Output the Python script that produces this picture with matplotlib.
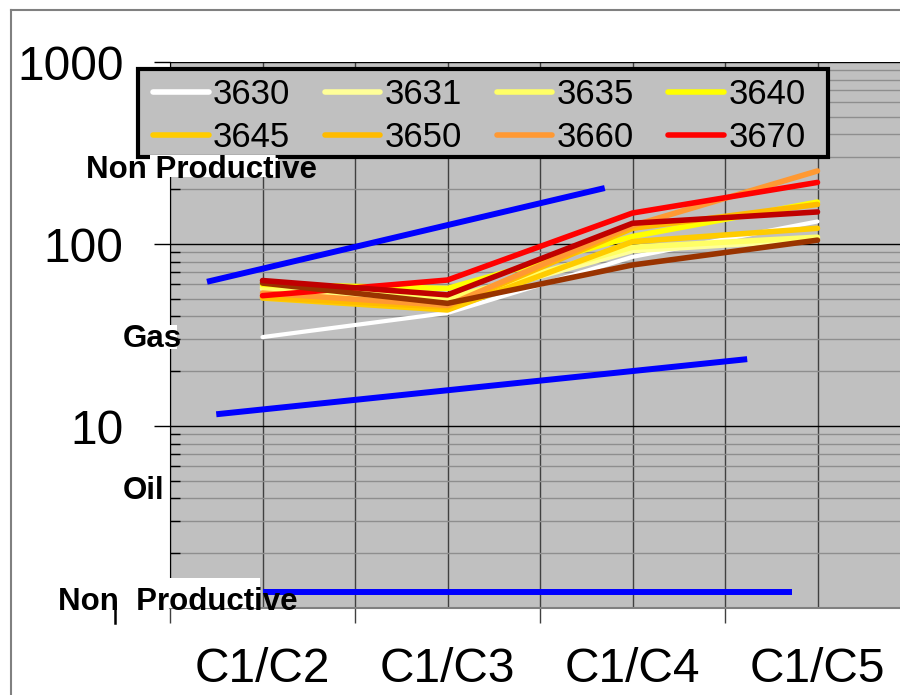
import matplotlib.pyplot as plt
from matplotlib.lines import Line2D
from matplotlib.patches import Rectangle
from matplotlib.ticker import FixedLocator, LogLocator, NullFormatter, FixedFormatter

plt.rcParams['font.family'] = ['Liberation Sans', 'DejaVu Sans']

ratios = ['C1/C2', 'C1/C3', 'C1/C4', 'C1/C5']

# depth samples (legend entries)
depths = ['3630', '3631', '3635', '3640', '3645', '3650', '3660', '3670']
depth_colors = ['#FFFFFF', '#FFFF99', '#FFFF66', '#FFFF00', '#FFCC00', '#FFBB00', '#FF9933', '#FF0000']
v3630 = [30.8, 41.8, 85, 133]
v3631 = [57, 48, 92, 106]
v3635 = [58, 50, 96, 109]
v3640 = [60, 57, 110, 170]
v3645 = [50.5, 43.4, 103, 122]
v3650 = [51, 45, 122, 165]
v3660 = [53.8, 46, 126, 252]
v3670 = [52, 63.4, 148, 218]
depth_values = [v3630, v3631, v3635, v3640, v3645, v3650, v3660, v3670]

# two more samples that are not in the legend
extra_colors = ['#993300', '#C00000']
extra_brown = [61, 47.2, 76.7, 105]
extra_darkred = [63, 52.5, 130, 150]
extra_values = [extra_brown, extra_darkred]

# boundary lines (Non Productive / Gas / Oil / Non Productive)
gas_top_x = [-0.3, 1.85]
gas_top_y = [62, 203]
gas_oil_x = [-0.25, 2.62]
gas_oil_y = [11.6, 23.3]
oil_bottom_x = [0, 2.86]
oil_bottom_y = [1.22, 1.22]

W, H = 900, 695


def fx(px):
    return px / W


def fy(py):
    return 1 - py / H


fig = plt.figure(figsize=(9, 6.95), dpi=100)
ax = fig.add_axes([fx(170), fy(608), fx(900) - fx(170), fy(62) - fy(608)])
ax.set_facecolor('#C0C0C0')

for vals, col in zip(depth_values, depth_colors):
    lw = 3.0 if col == '#FFFFFF' else 4.0
    ax.plot(range(len(ratios)), vals, color=col, lw=lw, solid_capstyle='round', zorder=3)
for vals, col in zip(extra_values, extra_colors):
    ax.plot(range(len(ratios)), vals, color=col, lw=4.0, solid_capstyle='round', zorder=3)

for bx, by in [(gas_top_x, gas_top_y), (gas_oil_x, gas_oil_y), (oil_bottom_x, oil_bottom_y)]:
    ax.plot(bx, by, color='#0000FF', lw=4.3, solid_capstyle='butt', zorder=3)

ax.set_yscale('log')
ax.set_ylim(1, 1000)
ax.set_xlim(-0.5, -0.5 + 730 / 185)

ax.yaxis.set_minor_locator(LogLocator(base=10, subs=range(2, 10), numticks=10))
ax.yaxis.set_minor_formatter(NullFormatter())
ax.set_yticks([10, 100, 1000])
ax.set_yticklabels(['10', '100', '1000'])

ax.xaxis.set_major_locator(FixedLocator([-0.5, 0.5, 1.5, 2.5, 3.5]))
ax.xaxis.set_major_formatter(NullFormatter())
ax.xaxis.set_minor_locator(FixedLocator([0, 1, 2, 3]))
ax.xaxis.set_minor_formatter(FixedFormatter(ratios))

ax.tick_params(axis='y', which='major', direction='out', length=11.5, width=1, labelsize=34.5, pad=22)
ax.tick_params(axis='y', which='minor', direction='in', length=7, width=1)
ax.tick_params(axis='x', which='major', direction='out', length=11, width=1, color='#404040')
ax.tick_params(axis='x', which='minor', length=0, labelsize=34.5, pad=28)

ax.grid(which='major', axis='y', color='black', lw=1)
ax.grid(which='minor', axis='y', color='#8E8E8E', lw=1)
ax.grid(which='both', axis='x', color='#404040', lw=1)
ax.set_axisbelow(True)

for s in ['top', 'right']:
    ax.spines[s].set_visible(False)
ax.spines['left'].set_color('black')
ax.spines['bottom'].set_color('#808080')
ax.spines['bottom'].set_linewidth(1.5)

# legend box drawn by hand, entries laid out row by row
fig.add_artist(Rectangle((fx(138), fy(157)), fx(828) - fx(138), fy(69) - fy(157),
                         transform=fig.transFigure, facecolor='#C0C0C0', edgecolor='black',
                         lw=3, zorder=4.5))
order = [0, 4, 1, 5, 2, 6, 3, 7]
handles = [Line2D([], [], color=depth_colors[i], lw=4.0, solid_capstyle='round') for i in order]
labels = [depths[i] for i in order]
leg = fig.legend(handles, labels, loc='upper left', bbox_to_anchor=(fx(153), fy(78)),
                 ncol=4, fontsize=25, handlelength=1.6, handletextpad=0.12,
                 columnspacing=1.0, labelspacing=0.29, borderpad=0, borderaxespad=0,
                 frameon=False)
leg.set_zorder(5)

# white text boxes over the plot area
for x0, y0, x1, y1 in [(150, 155, 278, 177), (150, 325, 177, 349), (150, 578, 260, 608)]:
    fig.add_artist(Rectangle((fx(x0), fy(y1)), fx(x1) - fx(x0), fy(y0) - fy(y1),
                             transform=fig.transFigure, facecolor='white', edgecolor='none', zorder=5))

lab = dict(fontsize=22.5, fontweight='bold', va='center', ha='left', zorder=6)
fig.text(fx(86), fy(170), 'Non Productive', **lab)
fig.text(fx(123), fy(339), 'Gas', **lab)
fig.text(fx(123), fy(491), 'Oil', **lab)
fig.text(fx(58), fy(602), 'Non  Productive', **lab)
fig.add_artist(Line2D([fx(115), fx(115)], [fy(602), fy(623)], color='black', lw=1.8, zorder=6))

# outer frame
fig.add_artist(Line2D([fx(11), fx(11)], [fy(10), 0], color='#808080', lw=1.5, zorder=6))
fig.add_artist(Line2D([fx(11), 1], [fy(10), fy(10)], color='#808080', lw=1.5, zorder=6))

fig.savefig('out.png', dpi=100)
